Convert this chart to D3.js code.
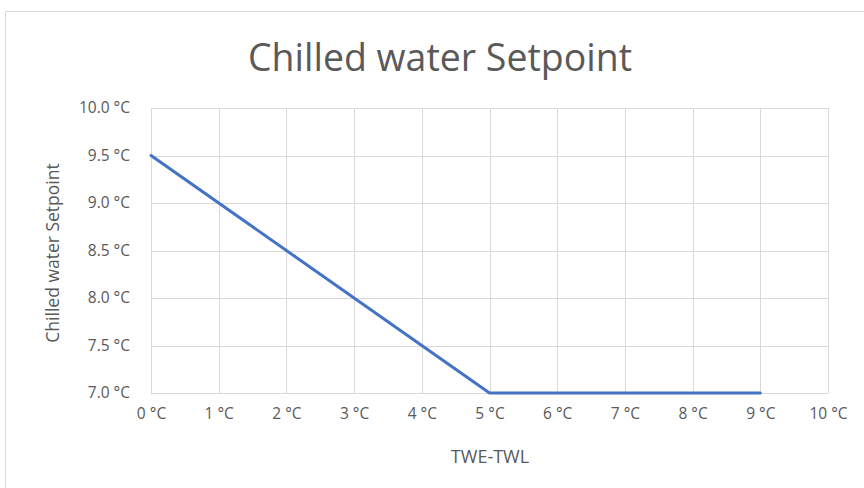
<!DOCTYPE html>
<html>
<head>
<meta charset="utf-8">
<script src="https://cdn.jsdelivr.net/npm/d3@7"></script>
<style>
  html, body { margin: 0; padding: 0; background: #fff; overflow: hidden; }
  svg { display: block; font-family: "Open Sans", "Noto Sans", sans-serif; }
</style>
</head>
<body>
<div id="chart"></div>
<script>
// TWE-TWL (°C) -> chilled water setpoint (°C)
const deltaT = [0, 5, 9];
const setpoint = [9.5, 7.0, 7.0];
const xTicks = [0, 1, 2, 3, 4, 5, 6, 7, 8, 9, 10];
const yTicks = [7.0, 7.5, 8.0, 8.5, 9.0, 9.5, 10.0];

const width = 864, height = 488;
const margin = { top: 108, right: 36, bottom: 95, left: 151 };
const innerWidth = width - margin.left - margin.right;
const innerHeight = height - margin.top - margin.bottom;
const textColor = "#595959";
const gridColor = "#d9d9d9";

const svg = d3.select("#chart").append("svg").attr("width", width).attr("height", height);

// chart frame (runs off the right and bottom edges, as in the source)
svg.append("path").attr("d", `M5.5,${height}V11.5H${width}`)
  .attr("fill", "none").attr("stroke", "#d9d9d9");

const x = d3.scaleLinear().domain([0, 10]).range([margin.left, margin.left + innerWidth]);
const y = d3.scaleLinear().domain([7, 10]).range([margin.top + innerHeight, margin.top]);

// gridlines
svg.append("g").selectAll("line").data(xTicks).join("line")
  .attr("x1", d => Math.round(x(d)) + 0.5).attr("x2", d => Math.round(x(d)) + 0.5)
  .attr("y1", margin.top).attr("y2", margin.top + innerHeight)
  .attr("stroke", gridColor);
svg.append("g").selectAll("line").data(yTicks).join("line")
  .attr("x1", margin.left).attr("x2", margin.left + innerWidth)
  .attr("y1", d => Math.round(y(d)) + 0.5).attr("y2", d => Math.round(y(d)) + 0.5)
  .attr("stroke", gridColor);

// axes (labels only)
const xAxis = svg.append("g").attr("transform", `translate(0,${margin.top + innerHeight})`)
  .call(d3.axisBottom(x).tickValues(xTicks).tickSize(0).tickPadding(15).tickFormat(d => `${d} °C`));
const yAxis = svg.append("g").attr("transform", `translate(${margin.left},0)`)
  .call(d3.axisLeft(y).tickValues(yTicks).tickSize(0).tickPadding(21).tickFormat(d => `${d.toFixed(1)} °C`));
[xAxis, yAxis].forEach(g => {
  g.select(".domain").remove();
  g.selectAll("text").attr("fill", textColor).attr("font-size", 15.5)
    .attr("font-family", "'Open Sans', 'Noto Sans', sans-serif");
});

// series
const line = d3.line().x((d, i) => x(deltaT[i])).y(d => y(d));
svg.append("path").datum(setpoint).attr("d", line)
  .attr("fill", "none").attr("stroke", "#4472C4").attr("stroke-width", 3)
  .attr("stroke-linecap", "round").attr("stroke-linejoin", "round");

// titles
svg.append("text").attr("x", 440).attr("y", 71).attr("text-anchor", "middle")
  .attr("fill", textColor).attr("font-size", 39)
  .attr("textLength", 384).attr("lengthAdjust", "spacingAndGlyphs")
  .text("Chilled water Setpoint");

svg.append("text").attr("x", 490).attr("y", 463).attr("text-anchor", "middle")
  .attr("fill", textColor).attr("font-size", 18).text("TWE-TWL");

const yMid = 253;
svg.append("text").attr("x", 59).attr("y", yMid).attr("text-anchor", "middle")
  .attr("transform", `rotate(-90,59,${yMid})`)
  .attr("fill", textColor).attr("font-size", 17.5).text("Chilled water Setpoint");
</script>
</body>
</html>
